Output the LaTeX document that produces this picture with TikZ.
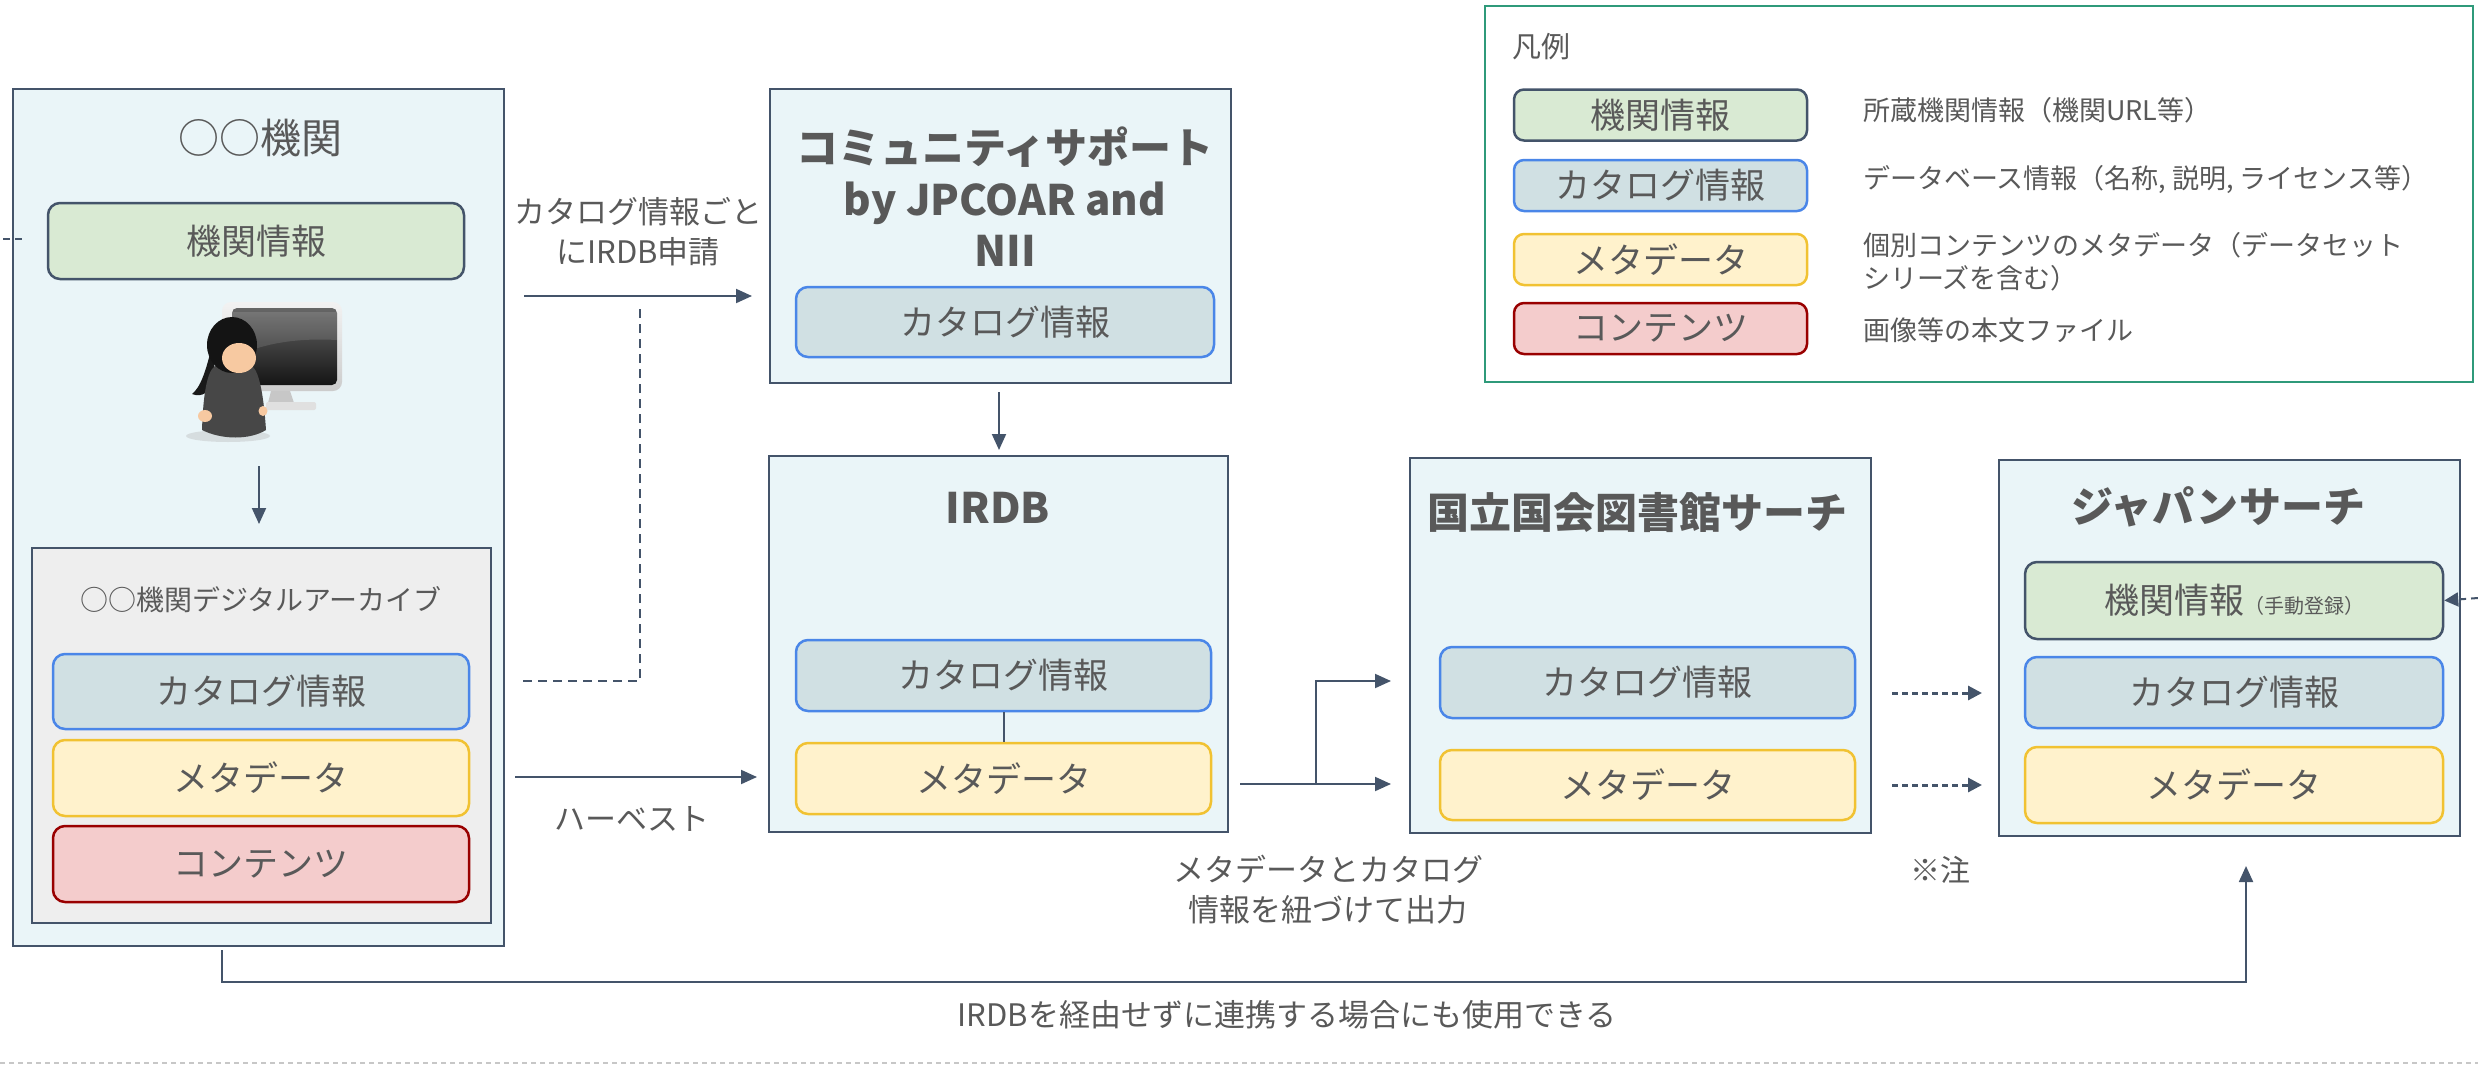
\documentclass[tikz,border=0pt]{standalone}
\usepackage{fontspec}
\setmainfont{Noto Sans CJK JP}
\usetikzlibrary{arrows.meta}

\definecolor{edge}{HTML}{44546A}
\definecolor{panelfill}{HTML}{EAF5F8}
\definecolor{archfill}{HTML}{EEEEEE}
\definecolor{txt}{HTML}{595959}
\definecolor{instfill}{HTML}{D9EAD3}
\definecolor{catfill}{HTML}{D0E0E3}
\definecolor{catedge}{HTML}{4A86E8}
\definecolor{metafill}{HTML}{FFF2CC}
\definecolor{metaedge}{HTML}{F1C232}
\definecolor{contfill}{HTML}{F4CCCC}
\definecolor{contedge}{HTML}{990000}
\definecolor{legendedge}{HTML}{2F9A7A}
\definecolor{skin}{HTML}{F7C9A1}

\newcommand\fsz[2]{\fontsize{#1}{#2}\selectfont}

\begin{document}
\begin{tikzpicture}[x=1pt,y=-1pt,
  every node/.style={text=txt, inner sep=0pt},
  panel/.style={draw=edge, fill=panelfill, line width=2.5pt},
  chip/.style={rounded corners=12pt, line width=2.5pt, font=\fsz{35}{42}},
  inst/.style={chip, draw=edge, fill=instfill},
  cat/.style={chip, draw=catedge, fill=catfill},
  meta/.style={chip, draw=metaedge, fill=metafill},
  cont/.style={chip, draw=contedge, fill=contfill},
  wide/.style={minimum width=416pt},
  small/.style={minimum width=293pt, minimum height=51pt, rounded corners=10pt},
  heading/.style={font=\fsz{42}{51.5}\bfseries, align=center},
  label/.style={font=\fsz{31}{40}, align=center},
  desc/.style={font=\fsz{27}{33}, align=left, anchor=west},
  link/.style={draw=edge, line width=2pt},
  flow/.style={link, -{Triangle[length=16pt,width=14pt]}},
  hint/.style={link, dash pattern=on 9pt off 6pt},
  hintflow/.style={link, line width=3pt, dash pattern=on 6pt off 4pt, -{Triangle[length=14pt,width=14pt]}}
]
\useasboundingbox (0,0) rectangle (2478,1073);

% ---------- institution ----------
\node[panel, minimum width=491pt, minimum height=857pt] (org) at (258.5,517.5) {};
\node[font=\fsz{41}{49}] (orgtitle) at (260,138) {○○機関};
\node[inst, wide, minimum height=76pt] (orginst) at (256,241) {機関情報};

% workstation icon
\begin{scope}
  \fill[black!30, opacity=0.35] (228,436) ellipse [x radius=42, y radius=6];
  \shade[top color=white!95!black, bottom color=white!80!black, rounded corners=9pt] (222,302) rectangle (342,391);
  \shade[top color=black!60, bottom color=black!92, rounded corners=5pt] (232,308) rectangle (337,385);
  \fill[white, opacity=0.12] (232,312) -- (337,312) -- (337,340) .. controls (300,338) and (265,342) .. (232,358) -- cycle;
  \fill[black!22] (271,391) -- (290,391) -- (294,403) -- (268,403) -- cycle;
  \fill[black!12, rounded corners=2pt] (266,402) rectangle (316,410);
  \fill[black!90] (212,345) .. controls (206,372) and (200,388) .. (192,394) .. controls (202,398) and (210,392) .. (216,380) -- cycle;
  \fill[black!72] (215,366) .. controls (206,372) and (203,400) .. (202,430) .. controls (222,440) and (250,440) .. (266,430) .. controls (264,400) and (260,372) .. (252,366) -- cycle;
  \fill[black!92] (232,345) ellipse [x radius=25, y radius=28];
  \fill[skin] (239,358) ellipse [x radius=17, y radius=15];
  \fill[skin] (205,416) ellipse [x radius=7, y radius=6];
  \fill[skin] (263,411) ellipse [x radius=4.5, y radius=5];
\end{scope}
\coordinate (iconbase) at (259,466);

% digital archive
\node[draw=edge, fill=archfill, line width=2.5pt, minimum width=459pt, minimum height=375pt] (arch) at (261.5,735.5) {};
\node[font=\fsz{28}{34}] (archtitle) at (261,600) {○○機関デジタルアーカイブ};
\node[cat, wide, minimum height=75pt] (archcat) at (261,691.5) {カタログ情報};
\node[meta, wide, minimum height=76pt] (archmeta) at (261,778) {メタデータ};
\node[cont, wide, minimum height=76pt] (archcont) at (261,864) {コンテンツ};

\coordinate (archin) at (259,524);
\draw[flow] (iconbase) -- (archin);

% ---------- community support ----------
\node[panel, minimum width=461pt, minimum height=294pt] (comm) at (1000.5,236) {};
\node[heading] (commtitle) at (1005,197) {コミュニティサポート\\by JPCOAR and\\NII};
\node[cat, minimum width=418pt, minimum height=70pt] (commcat) at (1005,322) {カタログ情報};

\coordinate (applyfrom) at (524,296);
\coordinate (applyto) at (752,296);
\draw[flow] (applyfrom) -- (applyto);
\node[label] (applylabel) at (638,232) {カタログ情報ごと\\にIRDB申請};
\coordinate (hintfrom) at (523,681);
\coordinate (hinttop) at (640,305);
\draw[hint] (hintfrom) -| (hinttop);

% ---------- IRDB ----------
\node[panel, minimum width=459pt, minimum height=376pt] (irdb) at (998.5,644) {};
\node[heading] (irdbtitle) at (998,508) {IRDB};
\node[cat, minimum width=415pt, minimum height=71pt] (irdbcat) at (1003.5,675.5) {カタログ情報};
\node[meta, minimum width=415pt, minimum height=71pt] (irdbmeta) at (1003.5,778.5) {メタデータ};
\draw[link] (irdbcat) -- (irdbmeta);

\coordinate (commout) at (999,392);
\coordinate (irdbin) at (999,450);
\draw[flow] (commout) -- (irdbin);

\coordinate (harvfrom) at (515,777);
\coordinate (harvto) at (757,777);
\draw[flow] (harvfrom) -- (harvto);
\node[label] (harvlabel) at (632,819) {ハーベスト};

% ---------- NDL search ----------
\node[panel, minimum width=461pt, minimum height=375pt] (ndl) at (1640.5,645.5) {};
\node[heading] (ndltitle) at (1637,513) {国立国会図書館サーチ};
\node[cat, minimum width=415pt, minimum height=71pt] (ndlcat) at (1647.5,682.5) {カタログ情報};
\node[meta, minimum width=415pt, minimum height=70pt] (ndlmeta) at (1647.5,785) {メタデータ};

\coordinate (outfrom) at (1240,784);
\coordinate (split) at (1316,784);
\coordinate (ndlin1) at (1391,681);
\coordinate (ndlin2) at (1391,784);
\draw[link] (outfrom) -- (split);
\draw[flow] (split) -- (ndlin2);
\draw[flow] (split) |- (ndlin1);
\node[label] (outlabel) at (1328,890) {メタデータとカタログ\\情報を紐づけて出力};

% ---------- Japan Search ----------
\node[panel, minimum width=461pt, minimum height=376pt] (js) at (2229.5,648) {};
\node[heading] (jstitle) at (2218,507) {ジャパンサーチ};
\node[inst, minimum width=418pt, minimum height=77pt] (jsinst) at (2234,600.5) {機関情報{\fsz{20}{24}（手動登録）}};
\node[cat, minimum width=418pt, minimum height=71pt] (jscat) at (2234,692.5) {カタログ情報};
\node[meta, minimum width=418pt, minimum height=76pt] (jsmeta) at (2234,785) {メタデータ};

\coordinate (ndlout1) at (1892,693);
\coordinate (jsin1) at (1982,693);
\coordinate (ndlout2) at (1892,785);
\coordinate (jsin2) at (1982,785);
\draw[hintflow] (ndlout1) -- (jsin1);
\draw[hintflow] (ndlout2) -- (jsin2);
\node[font=\fsz{30}{36}] (note) at (1940,870) {※注};

% manual registration of institution info (continues across the page edge)
\coordinate (wrapleft) at (3,239);
\coordinate (wrapleftend) at (25,239);
\draw[link, dash pattern=on 7pt off 5pt] (wrapleft) -- (wrapleftend);
\coordinate (wrapright) at (2478,598);
\draw[link, dash pattern=on 7pt off 5pt, -{Triangle[length=14pt,width=14pt]}] (wrapright) -- (jsinst.east);

% direct link without IRDB
\coordinate (directfrom) at (222,950);
\coordinate (directto) at (2246,866);
\draw[flow] (directfrom) -- (222,982) -| (directto);
\node[label] (directlabel) at (1287,1015) {IRDBを経由せずに連携する場合にも使用できる};

% ---------- legend ----------
\node[draw=legendedge, line width=2pt, fill=white, minimum width=988pt, minimum height=376pt] (legend) at (1979,194) {};
\node[font=\fsz{29}{35}, anchor=west] (legendtitle) at (1512,47) {凡例};
\node[inst, small] (lginst) at (1660.5,115) {機関情報};
\node[cat, small] (lgcat) at (1660.5,185.5) {カタログ情報};
\node[meta, small] (lgmeta) at (1660.5,259.5) {メタデータ};
\node[cont, small] (lgcont) at (1660.5,328.5) {コンテンツ};
\node[desc] (lginstdesc) at (1863,110) {所蔵機関情報（機関URL等）};
\node[desc] (lgcatdesc) at (1863,180) {データベース情報（名称, 説明, ライセンス等）};
\node[desc] (lgmetadesc) at (1863,261.5) {個別コンテンツのメタデータ（データセット\\シリーズを含む）};
\node[desc] (lgcontdesc) at (1863,330) {画像等の本文ファイル};

% page separator
\draw[draw=black!22, line width=1.5pt, dash pattern=on 5pt off 4pt] (0,1063) -- (2478,1063);
\end{tikzpicture}
\end{document}
